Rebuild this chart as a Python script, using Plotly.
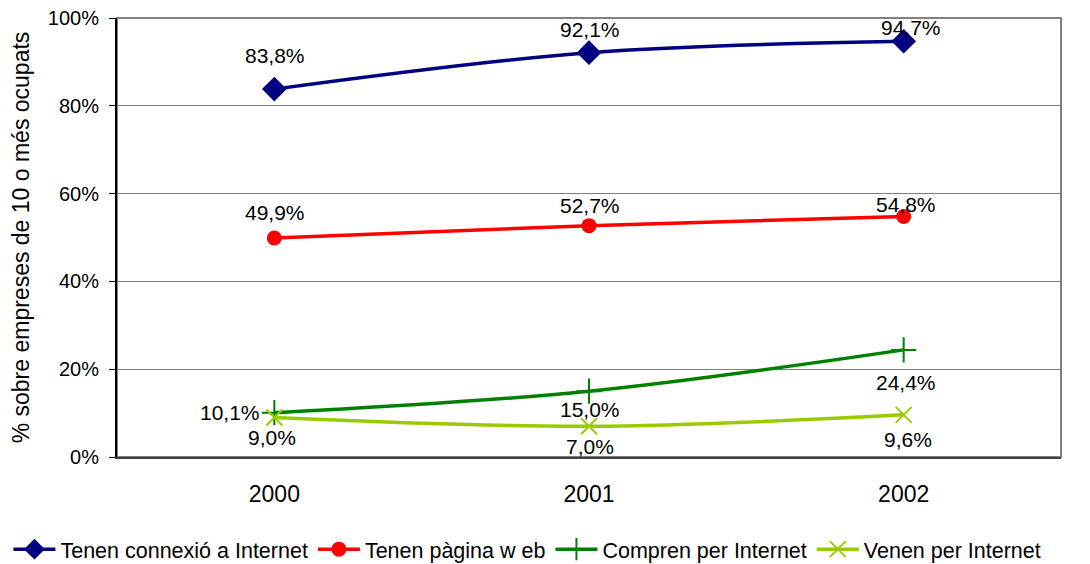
import plotly.graph_objects as go

years = ['2000', '2001', '2002']
connexio = [83.8, 92.1, 94.7]
pagina_web = [49.9, 52.7, 54.8]
compren = [10.1, 15.0, 24.4]
venen = [9.0, 7.0, 9.6]

series = [
    ('Tenen connexió a Internet', connexio),
    ('Tenen pàgina w eb', pagina_web),
    ('Compren per Internet', compren),
    ('Venen per Internet', venen),
]

styles = [
    dict(color='#000080', symbol='diamond', size=19, mline=0),
    dict(color='#FF0000', symbol='circle', size=15, mline=0),
    dict(color='#008000', symbol='cross-thin', size=18, mline=2),
    dict(color='#99CC00', symbol='x-thin', size=16, mline=2),
]

# label offsets (xshift, yshift) per series / point
label_shifts = [
    [(1, 34), (1, 23), (7, 14)],
    [(1, 25), (1, 20), (2, 12)],
    [(-44, 0), (1, -18), (2, -33)],
    [(-2, -20), (1, -20), (4, -25)],
]

FONT = 'Liberation Sans, Arial, sans-serif'

fig = go.Figure()

for (name, vals), st in zip(series, styles):
    fig.add_trace(go.Scatter(
        x=years, y=vals, name=name, mode='lines+markers',
        line=dict(color=st['color'], width=3.5, shape='spline'),
        marker=dict(symbol=st['symbol'], size=st['size'], color=st['color'],
                    line=dict(color=st['color'], width=st['mline'])),
    ))

for (name, vals), shifts in zip(series, label_shifts):
    for i, (v, (dx, dy)) in enumerate(zip(vals, shifts)):
        fig.add_annotation(
            x=i, y=v, xref='x', yref='y', text=f'{v:.1f}%'.replace('.', ','),
            showarrow=False, xshift=dx, yshift=dy,
            font=dict(family=FONT, size=21, color='black'),
        )

# plot frame (right side gray)
fig.add_shape(type='rect', xref='paper', yref='paper', x0=0, y0=0, x1=1, y1=1,
              line=dict(color='#808080', width=2), layer='below')

# page body has an 8px margin, so the figure is 8px smaller
fig.update_layout(
    width=1082, height=556,
    margin=dict(l=109, r=29, t=10, b=107, autoexpand=False),
    paper_bgcolor='white', plot_bgcolor='white',
    font=dict(family=FONT, size=20, color='black'),
    showlegend=True,
    legend=dict(
        orientation='h',
        x=-0.115, xanchor='left', y=-0.21, yanchor='middle',
        font=dict(family=FONT, size=21.5, color='black'),
        itemwidth=42, tracegroupgap=0,
    ),
)

fig.update_xaxes(
    type='category', range=[-0.5, 2.5], automargin=False,
    showgrid=False, showline=True, linecolor='#404040', linewidth=2,
    ticks='', ticklabelstandoff=15,
    tickfont=dict(family=FONT, size=23, color='black'),
)

fig.update_yaxes(
    range=[0, 100], tickvals=[0, 20, 40, 60, 80, 100], automargin=False,
    ticktext=['0%', '20%', '40%', '60%', '80%', '100%'],
    ticklabeloverflow='allow',
    showgrid=True, gridcolor='#808080', gridwidth=1,
    showline=True, linecolor='black', linewidth=2,
    ticks='outside', ticklen=6, tickcolor='black', tickwidth=1,
    ticklabelstandoff=6, zeroline=False,
    tickfont=dict(family=FONT, size=20, color='black'),
    title=dict(text='% sobre empreses de 10 o més ocupats', standoff=24,
               font=dict(family=FONT, size=23, color='black')),
)

fig.write_html('out.html')
